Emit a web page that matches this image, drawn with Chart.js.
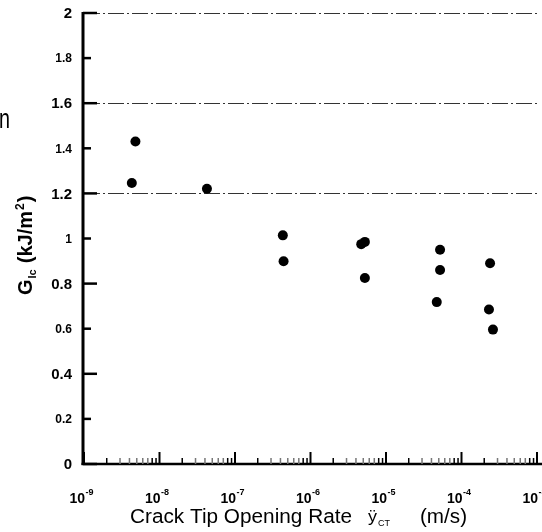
<!DOCTYPE html>
<html>
<head>
<meta charset="utf-8">
<script src="https://cdn.jsdelivr.net/npm/chart.js@4/dist/chart.umd.min.js"></script>
<style>
  html, body { margin: 0; padding: 0; background: #fff; }
  #chart { display: block; }
</style>
</head>
<body>
<canvas id="chart" width="542" height="532"></canvas>
<script>
'use strict'

// crack tip opening rate (m/s) and fracture energy G_Ic (kJ/m2)
const rates = [4.8e-9, 4.3e-9, 4.25e-8, 4.3e-7, 4.4e-7, 4.7e-6, 5.25e-6, 5.25e-6, 5.2e-5, 5.2e-5, 4.7e-5, 2.39e-4, 2.31e-4, 2.61e-4]
const gic = [1.43, 1.246, 1.221, 1.014, 0.899, 0.975, 0.985, 0.825, 0.95, 0.86, 0.718, 0.89, 0.685, 0.596]

const yTicks = [0, 0.2, 0.4, 0.6, 0.8, 1, 1.2, 1.4, 1.6, 1.8, 2]
const yTickLabels = ['0', '0.2', '0.4', '0.6', '0.8', '1', '1.2', '1.4', '1.6', '1.8', '2']
const xDecades = [-9, -8, -7, -6, -5, -4, -3]
const gridValues = [1.2, 1.6, 2]

const xTitle = 'Crack Tip Opening Rate'
const yTitle = '(kJ/m'

const FONT = '"Liberation Sans", Arial, sans-serif'

// draw text squeezed/stretched to a given width
function fitText(ctx, text, x, y, width, font) {
  ctx.save()
  ctx.font = font
  const w = ctx.measureText(text).width
  ctx.translate(x, y)
  ctx.scale(width / w, 1)
  ctx.textAlign = 'left'
  ctx.fillText(text, 0, 0)
  ctx.restore()
}

const axesPlugin = {
  id: 'axes',
  afterDraw(chart) {
    const ctx = chart.ctx
    const area = chart.chartArea
    const xs = chart.scales.x
    const ys = chart.scales.y

    ctx.save()
    ctx.fillStyle = '#000'
    ctx.strokeStyle = '#000'
    ctx.lineCap = 'butt'

    // axis lines
    ctx.lineWidth = 3
    ctx.beginPath()
    ctx.moveTo(area.left - 1, area.top - 1)
    ctx.lineTo(area.left - 1, area.bottom + 1)
    ctx.stroke()
    ctx.lineWidth = 2.5
    ctx.beginPath()
    ctx.moveTo(area.left - 2.5, area.bottom)
    ctx.lineTo(chart.width, area.bottom)
    ctx.stroke()

    // y ticks and labels
    yTicks.forEach((v, i) => {
      const y = ys.getPixelForValue(v)
      const major = i % 2 === 0
      ctx.lineWidth = 2.5
      ctx.beginPath()
      ctx.moveTo(area.left - 1, y)
      ctx.lineTo(area.left - 1 + (major ? 14 : 8), y)
      ctx.stroke()
      ctx.font = major ? 'bold 15px ' + FONT : 'bold 12px ' + FONT
      ctx.textAlign = 'right'
      ctx.textBaseline = 'middle'
      ctx.fillText(yTickLabels[i], 72, y + 1)
    })

    // x ticks (log decades + minors) and labels
    xDecades.forEach(e => {
      const x = xs.getPixelForValue(Math.pow(10, e))
      ctx.strokeStyle = '#000'
      ctx.lineWidth = 2
      ctx.beginPath()
      ctx.moveTo(x, area.bottom)
      ctx.lineTo(x, area.bottom - 12)
      ctx.stroke()

      if (e < -3) {
        for (let m = 2; m <= 9; m++) {
          const mx = xs.getPixelForValue(m * Math.pow(10, e))
          ctx.strokeStyle = (m === 2 || m >= 8) ? '#000' : '#777'
          ctx.lineWidth = 1.5
          ctx.beginPath()
          ctx.moveTo(mx, area.bottom)
          ctx.lineTo(mx, area.bottom - 6)
          ctx.stroke()
        }
      }

      ctx.textBaseline = 'alphabetic'
      ctx.font = 'bold 14px ' + FONT
      ctx.textAlign = 'right'
      ctx.fillText('10', x + 1, 503)
      ctx.font = 'bold 9px ' + FONT
      ctx.textAlign = 'left'
      ctx.fillText(String(e), x + 1.5, 495)
    })

    // x title
    ctx.textBaseline = 'alphabetic'
    fitText(ctx, xTitle, 130, 523, 222, '20px ' + FONT)
    fitText(ctx, '\u00ff', 368, 522, 9, '17px ' + FONT)
    fitText(ctx, 'CT', 378, 526, 12, '9px ' + FONT)
    fitText(ctx, '(m/s)', 420, 523, 47, '20px ' + FONT)

    // y title, rotated
    ctx.save()
    ctx.translate(32, 295)
    ctx.rotate(-Math.PI / 2)
    ctx.textAlign = 'left'
    let p = 0
    ctx.font = 'bold 20px ' + FONT
    ctx.fillText('G', p, 0)
    p += ctx.measureText('G').width + 1
    ctx.font = 'bold 11px ' + FONT
    ctx.fillText('Ic', p, 4)
    p += ctx.measureText('Ic').width + 6
    ctx.font = 'bold 20px ' + FONT
    ctx.fillText(yTitle, p, 0)
    p += ctx.measureText(yTitle).width + 1
    ctx.font = 'bold 12px ' + FONT
    ctx.fillText('2', p, -8)
    p += ctx.measureText('2').width + 1
    ctx.font = 'bold 20px ' + FONT
    ctx.fillText(')', p, 0)
    ctx.restore()

    // stray letter at the left edge of the figure
    fitText(ctx, 'n', -1, 128, 11, '28px ' + FONT)

    ctx.restore()
  }
}

new Chart(document.getElementById('chart').getContext('2d'), {
  type: 'scatter',
  data: {
    datasets: [{
      data: rates.map((r, i) => ({ x: r, y: gic[i] })),
      backgroundColor: '#000',
      borderColor: '#000',
      borderWidth: 0,
      pointRadius: 5,
      pointHoverRadius: 5
    }]
  },
  options: {
    responsive: false,
    animation: false,
    layout: {
      padding: { left: 84, right: 3, top: 13, bottom: 60 }
    },
    plugins: {
      legend: { display: false },
      tooltip: { enabled: false }
    },
    scales: {
      x: {
        type: 'logarithmic',
        min: 1e-9,
        max: 1e-3,
        ticks: { display: false },
        grid: { display: false },
        border: { display: false }
      },
      y: {
        min: 0,
        max: 2,
        ticks: { display: false, stepSize: 0.2 },
        grid: {
          drawTicks: false,
          lineWidth: 1,
          color: c => gridValues.some(g => Math.abs(g - c.tick.value) < 1e-6) ? '#333' : 'rgba(0,0,0,0)'
        },
        border: { display: false, dash: [16, 3, 2, 3] }
      }
    }
  },
  plugins: [axesPlugin]
})
</script>
</body>
</html>
